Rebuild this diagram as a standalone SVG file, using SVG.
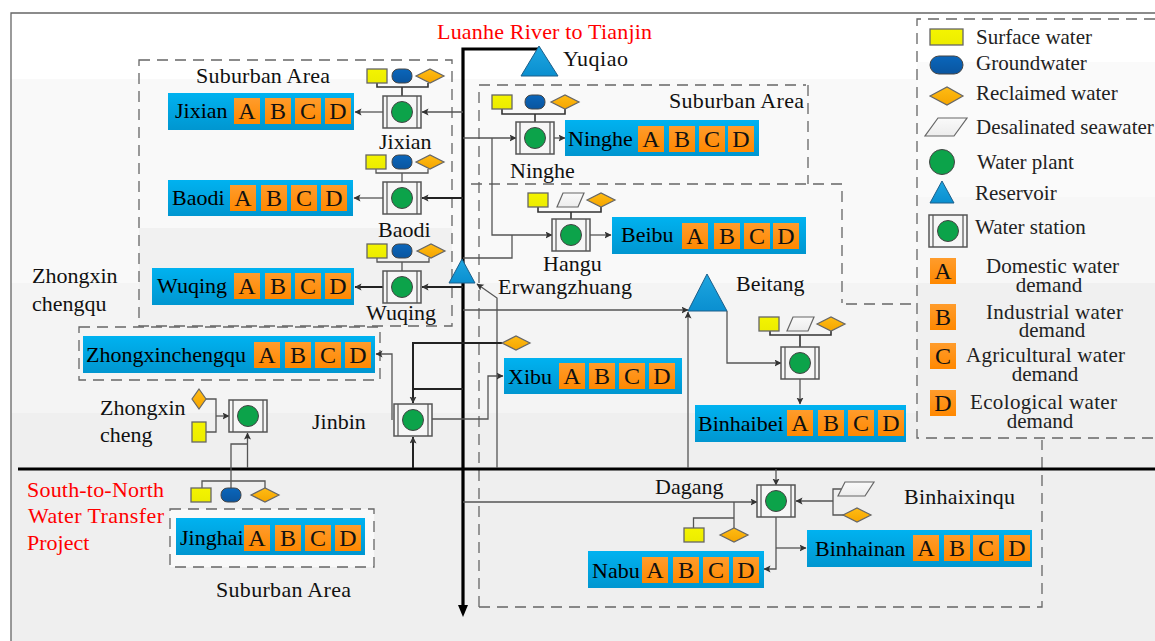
<svg xmlns="http://www.w3.org/2000/svg" width="1155" height="641" viewBox="0 0 1155 641">
<style>
text{font-family:"Liberation Serif","Times New Roman",serif;font-size:22px;fill:#111}
.r{fill:#f00}
.c{text-anchor:middle}
.b{font-size:22px;fill:#000}
.k{font-size:24px;fill:#111;text-anchor:middle}
.l{font-size:21px;fill:#222}
.t{fill:none;stroke:#555;stroke-width:1.3}
.n{fill:none;stroke:#333;stroke-width:1.6}
.m{fill:none;stroke:#222;stroke-width:2}
.h{fill:none;stroke:#000;stroke-width:3.2}
.d{fill:none;stroke:#666;stroke-width:1.3;stroke-dasharray:11 7}
.sy{fill:url(#gy);stroke:#666;stroke-width:1.3}
.sb{fill:url(#gb);stroke:#444;stroke-width:1}
.sd{fill:url(#go);stroke:#666;stroke-width:1.2}
.sp{fill:url(#gw);stroke:#666;stroke-width:1.2}
.tri{fill:url(#gt);stroke:#1c5f8a;stroke-width:1}
.bar{fill:url(#gbar)}
.box{fill:url(#gbox)}
.a{marker-end:url(#ar)}
</style>
<defs>
<linearGradient id="gy" x1="0" y1="0" x2="0" y2="1"><stop offset="0" stop-color="#f4f400"/><stop offset="1" stop-color="#ecec00"/></linearGradient>
<linearGradient id="gb" x1="0" y1="0" x2="0" y2="1"><stop offset="0" stop-color="#0a66bb"/><stop offset="1" stop-color="#0a559f"/></linearGradient>
<linearGradient id="go" x1="0" y1="0" x2="0" y2="1"><stop offset="0" stop-color="#ffbc14"/><stop offset="1" stop-color="#f5a500"/></linearGradient>
<linearGradient id="gw" x1="0" y1="0" x2="0" y2="1"><stop offset="0" stop-color="#fafafa"/><stop offset="1" stop-color="#ececec"/></linearGradient>
<linearGradient id="gt" x1="0" y1="0" x2="0" y2="1"><stop offset="0" stop-color="#1ea6e0"/><stop offset="1" stop-color="#0a8fd0"/></linearGradient>
<linearGradient id="gbar" x1="0" y1="0" x2="0" y2="1"><stop offset="0" stop-color="#00b2f0"/><stop offset="1" stop-color="#0096d0"/></linearGradient>
<linearGradient id="gbox" x1="0" y1="0" x2="0" y2="1"><stop offset="0" stop-color="#ff9c2c"/><stop offset="1" stop-color="#ff8800"/></linearGradient>
<marker id="ar" markerUnits="userSpaceOnUse" markerWidth="8" markerHeight="8" refX="6.5" refY="3.5" orient="auto"><path d="M0 0L7 3.5L0 7L1.5 3.5Z" fill="#333"/></marker>
<g id="st"><rect x="0" y="0" width="38" height="32" fill="#f6f6f6" stroke="#555" stroke-width="1.5"/><path d="M4 0V32M34 0V32" stroke="#555" stroke-width="1.2" fill="none"/><circle cx="19" cy="16" r="10.5" fill="#0ca34a" stroke="#444" stroke-width="1"/></g>
<rect id="bx" width="26" height="26" class="box"/>
<rect id="sy" width="20" height="14" class="sy"/>
<rect id="sb" width="20" height="14" rx="6.5" class="sb"/>
<path id="sd" d="M0 7L14 0L28 7L14 14Z" class="sd"/>
<path id="sp" d="M6 0H27L21 14H0Z" class="sp"/>
</defs>
<rect width="1155" height="641" fill="#fff"/>
<rect x="11" y="79" width="1144" height="204" fill="#f9f9f9"/>
<rect x="11" y="283" width="1144" height="130" fill="#f4f4f4"/>
<rect x="11" y="413" width="1144" height="228" fill="#efefef"/>
<rect x="139" y="228" width="313" height="98" fill="#f1f1f1"/>
<rect x="917" y="19" width="238" height="43" fill="#fff"/>
<rect x="917" y="62" width="238" height="135" fill="#fafafa"/>
<rect x="917" y="197" width="238" height="86" fill="#f7f7f7"/>
<rect x="917" y="283" width="238" height="155" fill="#f0f0f0"/>
<path d="M1155 13H11V641" fill="none" stroke="#666" stroke-width="1.3"/>

<g id="zones">
<rect x="139" y="60" width="313" height="266" class="d"/>
<path d="M479 607V85H806M808 85V184M471 184H842V303M846 304H917M479 607H1042V440" class="d"/>
<rect x="79" y="327" width="301" height="53" class="d"/>
<rect x="170" y="509" width="204" height="58" fill="#f9f9f9"/>
<rect x="170" y="509" width="204" height="58" class="d"/>
</g>

<g id="connectors">
<path d="M463 610V49H540M18 469H1155" class="h"/>
<path d="M458 605H468L463 617Z" fill="#000"/>
<path d="M377 83V87H428V83M402 87V96" class="n"/>
<path d="M376 169V173H428V169M402 173V182" class="t"/>
<path d="M377 258V262H429V258M402 262V271" class="t"/>
<path d="M502 109V114H565V109M535 114V122" class="n"/>
<path d="M538 207V212H601V207M571 212V219" class="n"/>
<path d="M770 331V335H831V331M800 335V347" class="n"/>
<path d="M463 112H422" class="t a"/><path d="M383 112H355" class="t a"/>
<path d="M463 198H422" class="m a"/><path d="M383 198H354" class="t a"/>
<path d="M463 287H422" class="m a"/><path d="M383 287H355" class="m a"/>
<path d="M463 138H516" class="t a"/><path d="M492 138V235H552" class="t a"/>
<path d="M463 258H512V235" class="t"/>
<path d="M554 138H565" class="t a"/><path d="M590 235H611" class="t a"/>
<path d="M463 310H688" class="t a"/>
<path d="M688 468V312" class="t a"/>
<path d="M727 311V363H781" class="t a"/>
<path d="M800 379V404" class="t a"/>
<path d="M497 468V298L477 284" class="t a"/>
<path d="M502 343H413V403" class="m a"/>
<path d="M413 389H463" class="m"/>
<path d="M413 468V437" class="m a"/>
<path d="M392 420V354H376" class="t a"/>
<path d="M432 419H488V376H503" class="t a"/>
<path d="M206 399H216V432H206" class="t"/><path d="M216 416H229" class="t a"/>
<path d="M247.500 468V433" class="t a"/>
<path d="M231 488V444H247.500" class="t"/>
<path d="M202 488V481H265V488" class="t"/>
<path d="M463 502H757" class="t a"/>
<path d="M734 502V528M693.500 528V518H734" class="t"/>
<path d="M776 469V485" class="t a"/>
<path d="M843 489H833V515H845" class="t"/><path d="M833 501H796" class="t a"/>
<path d="M776 517V569H764" class="t a"/>
<path d="M776 548H806" class="t a"/>
</g>

<g id="Yuqiao"><path d="M539 46L558 76H521Z" class="tri"/><text x="563" y="66" textLength="65">Yuqiao</text></g>
<text x="437" y="39" class="r" textLength="215">Luanhe River to Tianjin</text>
<text x="196" y="83" textLength="134">Suburban Area</text>
<text x="669" y="108" textLength="135">Suburban Area</text>
<text x="216" y="597" textLength="135">Suburban Area</text>

<g id="n-jixian"><use href="#sy" x="367" y="69"/><use href="#sb" x="392" y="69"/><use href="#sd" x="416" y="69"/><use href="#st" x="383" y="96"/><text x="379" y="149">Jixian</text>
<rect x="168" y="93" width="186" height="37" class="bar"/><text x="175" y="118" class="b">Jixian</text>
<use href="#bx" x="234" y="98"/><use href="#bx" x="265" y="98"/><use href="#bx" x="295" y="98"/><use href="#bx" x="325" y="98"/>
<text x="247" y="119" class="k">A</text><text x="278" y="119" class="k">B</text><text x="308" y="119" class="k">C</text><text x="338" y="119" class="k">D</text></g>

<g id="n-baodi"><use href="#sy" x="366" y="155"/><use href="#sb" x="392" y="155"/><use href="#sd" x="416" y="155"/><use href="#st" x="383" y="182"/><text x="378" y="237">Baodi</text>
<rect x="168" y="180" width="185" height="36" class="bar"/><text x="172" y="205" class="b">Baodi</text>
<use href="#bx" x="230" y="185"/><use href="#bx" x="261" y="185"/><use href="#bx" x="291" y="185"/><use href="#bx" x="321" y="185"/>
<text x="243" y="206" class="k">A</text><text x="274" y="206" class="k">B</text><text x="304" y="206" class="k">C</text><text x="334" y="206" class="k">D</text></g>

<g id="n-wuqing"><use href="#sy" x="367" y="244"/><use href="#sb" x="392" y="244"/><use href="#sd" x="417" y="244"/><use href="#st" x="383" y="271"/><text x="366" y="320">Wuqing</text>
<rect x="152" y="268" width="202" height="37" class="bar"/><text x="157" y="293" class="b">Wuqing</text>
<use href="#bx" x="234" y="273"/><use href="#bx" x="265" y="273"/><use href="#bx" x="295" y="273"/><use href="#bx" x="325" y="273"/>
<text x="247" y="294" class="k">A</text><text x="278" y="294" class="k">B</text><text x="308" y="294" class="k">C</text><text x="338" y="294" class="k">D</text></g>

<g id="n-ninghe"><use href="#sy" x="492" y="95"/><use href="#sb" x="525" y="95"/><use href="#sd" x="551" y="95"/><use href="#st" x="516" y="122"/><text x="510" y="178">Ninghe</text>
<rect x="565" y="120" width="194" height="36" class="bar"/><text x="568" y="146" class="b">Ninghe</text>
<use href="#bx" x="638" y="126"/><use href="#bx" x="669" y="126"/><use href="#bx" x="699" y="126"/><use href="#bx" x="728" y="126"/>
<text x="651" y="147" class="k">A</text><text x="682" y="147" class="k">B</text><text x="712" y="147" class="k">C</text><text x="741" y="147" class="k">D</text></g>

<g id="n-hangu"><use href="#sy" x="528" y="193"/><use href="#sp" x="557" y="193"/><use href="#sd" x="587" y="193"/><use href="#st" x="552" y="219"/><text x="543" y="271">Hangu</text>
<rect x="612" y="217" width="194" height="37" class="bar"/><text x="621" y="242" class="b">Beibu</text>
<use href="#bx" x="682" y="223"/><use href="#bx" x="714" y="223"/><use href="#bx" x="744" y="223"/><use href="#bx" x="773" y="223"/>
<text x="695" y="244" class="k">A</text><text x="727" y="244" class="k">B</text><text x="757" y="244" class="k">C</text><text x="786" y="244" class="k">D</text></g>

<g id="n-erwangzhuang"><path d="M462 259L475 283H449Z" class="tri"/><text x="498" y="294" textLength="134">Erwangzhuang</text></g>
<g id="n-beitang"><path d="M707 274L727 311H688Z" class="tri"/><text x="736" y="291">Beitang</text></g>
<text x="32" y="283">Zhongxin</text><text x="32" y="311">chengqu</text>

<g id="n-binhaibei"><use href="#sy" x="759" y="317"/><use href="#sp" x="787" y="317"/><use href="#sd" x="817" y="317"/><use href="#st" x="781" y="347"/>
<rect x="695" y="405" width="211" height="37" class="bar"/><text x="698" y="431" class="b">Binhaibei</text>
<use href="#bx" x="787" y="410"/><use href="#bx" x="818" y="410"/><use href="#bx" x="848" y="410"/><use href="#bx" x="878" y="410"/>
<text x="800" y="431" class="k">A</text><text x="831" y="431" class="k">B</text><text x="861" y="431" class="k">C</text><text x="891" y="431" class="k">D</text></g>

<g id="n-xibu"><path d="M502 343L516 336L530 343L516 350Z" class="sd"/>
<rect x="504" y="358" width="178" height="36" class="bar"/><text x="508" y="384" class="b">Xibu</text>
<use href="#bx" x="559" y="363"/><use href="#bx" x="589" y="363"/><use href="#bx" x="619" y="363"/><use href="#bx" x="649" y="363"/>
<text x="572" y="384" class="k">A</text><text x="602" y="384" class="k">B</text><text x="632" y="384" class="k">C</text><text x="662" y="384" class="k">D</text></g>

<g id="n-zhongxinchengqu"><rect x="83" y="336" width="292" height="37" class="bar"/><text x="86" y="362" class="b">Zhongxinchengqu</text>
<use href="#bx" x="254" y="342"/><use href="#bx" x="285" y="342"/><use href="#bx" x="315" y="342"/><use href="#bx" x="345" y="342"/>
<text x="267" y="363" class="k">A</text><text x="298" y="363" class="k">B</text><text x="328" y="363" class="k">C</text><text x="358" y="363" class="k">D</text></g>

<g id="n-jinbin"><use href="#st" x="394" y="404"/><text x="312" y="429">Jinbin</text></g>

<g id="n-zhongxincheng"><path d="M199 389L206 399L199 409L192 399Z" class="sd"/><rect x="192" y="422" width="14" height="20" class="sy"/><use href="#st" x="229" y="400"/>
<text x="100" y="415">Zhongxin</text><text x="100" y="442">cheng</text></g>

<g id="n-jinghai"><use href="#sy" x="191" y="488"/><use href="#sb" x="221" y="488"/><use href="#sd" x="251" y="488"/>
<rect x="176" y="518" width="189" height="37" class="bar"/><text x="180" y="545" class="b">Jinghai</text>
<use href="#bx" x="244" y="525"/><use href="#bx" x="275" y="525"/><use href="#bx" x="305" y="525"/><use href="#bx" x="335" y="525"/>
<text x="257" y="546" class="k">A</text><text x="288" y="546" class="k">B</text><text x="318" y="546" class="k">C</text><text x="348" y="546" class="k">D</text></g>
<text x="27" y="497" class="r" textLength="137">South-to-North</text>
<text x="28" y="523" class="r" textLength="136">Water Transfer</text>
<text x="27" y="550" class="r">Project</text>

<g id="n-dagang"><use href="#st" x="757" y="485"/><text x="655" y="494">Dagang</text>
<use href="#sy" x="684" y="528"/><use href="#sd" x="720" y="528"/>
<path d="M845 482H874L865 496H838Z" class="sp"/><use href="#sd" x="843" y="508"/><text x="904" y="504" textLength="111">Binhaixinqu</text></g>

<g id="n-binhainan"><rect x="807" y="530" width="225" height="37" class="bar"/><text x="815" y="556" class="b">Binhainan</text>
<use href="#bx" x="913" y="535"/><use href="#bx" x="944" y="535"/><use href="#bx" x="973" y="535"/><use href="#bx" x="1004" y="535"/>
<text x="926" y="556" class="k">A</text><text x="957" y="556" class="k">B</text><text x="986" y="556" class="k">C</text><text x="1017" y="556" class="k">D</text></g>

<g id="n-nabu"><rect x="588" y="551" width="176" height="37" class="bar"/><text x="592" y="578" class="b">Nabu</text>
<use href="#bx" x="642" y="557"/><use href="#bx" x="673" y="557"/><use href="#bx" x="703" y="557"/><use href="#bx" x="733" y="557"/>
<text x="655" y="578" class="k">A</text><text x="686" y="578" class="k">B</text><text x="716" y="578" class="k">C</text><text x="746" y="578" class="k">D</text></g>

<g id="legend">
<path d="M1155 19H917V438H1155" class="d"/>
<rect x="930" y="29" width="33" height="16" class="sy"/><text x="976" y="44" class="l">Surface water</text>
<rect x="930" y="56" width="33" height="18" rx="9" class="sb"/><text x="976" y="70" class="l">Groundwater</text>
<path d="M930 96L947 87L963 96L947 105Z" class="sd"/><text x="976" y="100" class="l">Reclaimed water</text>
<path d="M938 118H967L954 136H925Z" class="sp"/><text x="976" y="134" class="l">Desalinated seawater</text>
<circle cx="942" cy="162" r="12.500" fill="#0ca34a" stroke="#444"/><text x="977" y="169" class="l">Water plant</text>
<path d="M942 181L954 203H930Z" class="tri"/><text x="975" y="200" class="l">Reservoir</text>
<use href="#st" x="929" y="215"/><text x="975" y="234" class="l">Water station</text>
<use href="#bx" x="930" y="258"/><text x="943" y="279" class="k">A</text><text x="986" y="273" class="l" textLength="133">Domestic water</text><text x="1049" y="292" class="l c">demand</text>
<use href="#bx" x="930" y="304"/><text x="943" y="325" class="k">B</text><text x="986" y="319" class="l" textLength="137">Industrial water</text><text x="1052" y="337" class="l c">demand</text>
<use href="#bx" x="930" y="343"/><text x="943" y="364" class="k">C</text><text x="966" y="362" class="l" textLength="159">Agricultural water</text><text x="1045" y="381" class="l c">demand</text>
<use href="#bx" x="930" y="390"/><text x="943" y="411" class="k">D</text><text x="970" y="409" class="l" textLength="147">Ecological water</text><text x="1040" y="428" class="l c">demand</text>
</g>
</svg>
